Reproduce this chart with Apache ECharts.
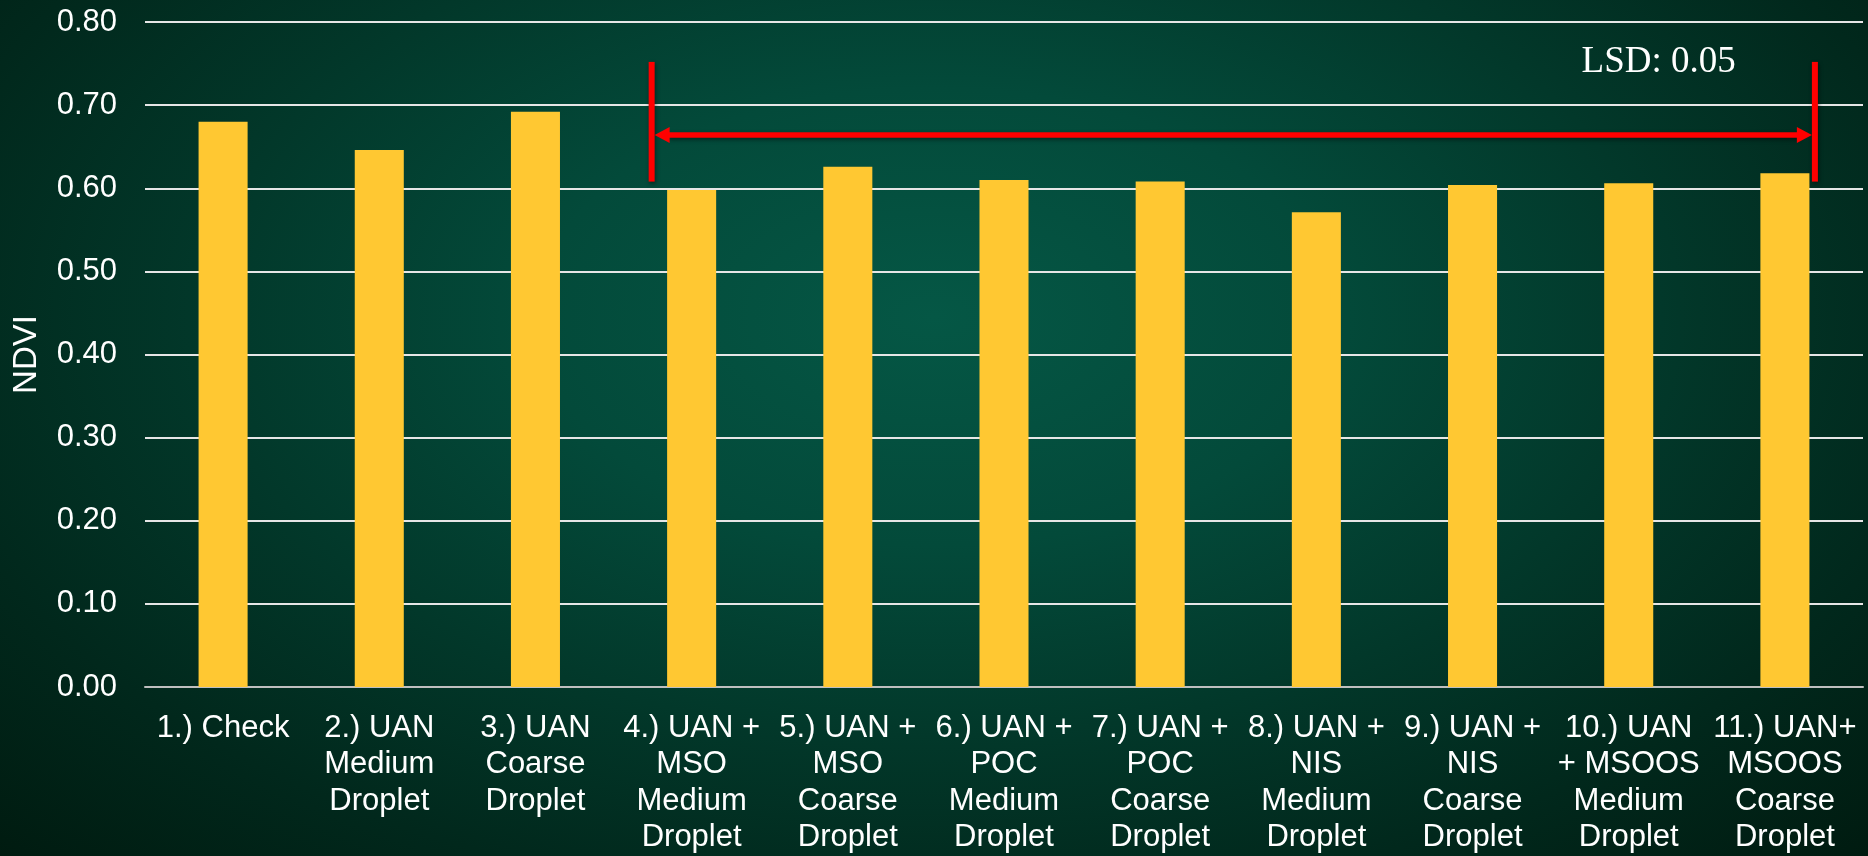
<!DOCTYPE html>
<html>
<head>
<meta charset="utf-8">
<title>NDVI by treatment</title>
<script src="https://cdn.jsdelivr.net/npm/echarts@6/dist/echarts.min.js"></script>
<style>
  html, body { margin: 0; padding: 0; width: 100%; height: 100%; }
  body {
    background: radial-gradient(ellipse farthest-corner at 50% 37%,
      #055745 0%, #034a3a 30%, #02382a 55%, #01281c 78%, #001b10 100%);
  }
  #chart { width: 1868px; height: 856px; }
</style>
</head>
<body>
<div id="chart"></div>
<script>
// Treatments (x axis), one label line per row
const categories = [
  '1.) Check',
  '2.) UAN\nMedium\nDroplet',
  '3.) UAN\nCoarse\nDroplet',
  '4.) UAN +\nMSO\nMedium\nDroplet',
  '5.) UAN +\nMSO\nCoarse\nDroplet',
  '6.) UAN +\nPOC\nMedium\nDroplet',
  '7.) UAN +\nPOC\nCoarse\nDroplet',
  '8.) UAN +\nNIS\nMedium\nDroplet',
  '9.) UAN +\nNIS\nCoarse\nDroplet',
  '10.) UAN\n+ MSOOS\nMedium\nDroplet',
  '11.) UAN+\nMSOOS\nCoarse\nDroplet'
];

// Mean NDVI per treatment
const ndvi = [0.680, 0.646, 0.692, 0.598, 0.626, 0.610, 0.608, 0.571, 0.604, 0.606, 0.618];

// Y axis ticks
const yTicks = [0, 0.1, 0.2, 0.3, 0.4, 0.5, 0.6, 0.7, 0.8];

// LSD bracket: first/last treatment index covered, and NDVI levels
// for the bracket's bottom, the arrow and the bracket's top
const lsdValue = 0.05;
const lsdRange = [3, 10];
const lsdLevels = [0.608, 0.664, 0.752];

const chart = echarts.init(document.getElementById('chart'), null, { renderer: 'canvas' });

const font = 'Liberation Sans, Arial, sans-serif';
const red = '#ff0000';

function renderLsd(params, api) {
  const band = api.size([1, 0])[0];
  const xL = api.coord([lsdRange[0], 0])[0] - band * 0.256;
  const xR = api.coord([lsdRange[1], 0])[0] + band * 0.192;
  const yLow = api.coord([0, lsdLevels[0]])[1];
  const yArrow = api.coord([0, lsdLevels[1]])[1];
  const yHigh = api.coord([0, lsdLevels[2]])[1];
  const shadow = { shadowBlur: 4, shadowOffsetX: 1, shadowOffsetY: 2, shadowColor: 'rgba(0,0,0,0.45)' };
  const head = 15, half = 8;
  const aL = xL + 3, aR = xR - 3;
  return {
    type: 'group',
    children: [
      { type: 'line', shape: { x1: xL, y1: yHigh, x2: xL, y2: yLow },
        style: Object.assign({ stroke: red, lineWidth: 6 }, shadow) },
      { type: 'line', shape: { x1: xR, y1: yHigh, x2: xR, y2: yLow },
        style: Object.assign({ stroke: red, lineWidth: 6 }, shadow) },
      { type: 'line', shape: { x1: aL + head - 2, y1: yArrow, x2: aR - head + 2, y2: yArrow },
        style: Object.assign({ stroke: red, lineWidth: 5.5 }, shadow) },
      { type: 'polygon', shape: { points: [[aL, yArrow], [aL + head, yArrow - half], [aL + head, yArrow + half]] },
        style: { fill: red } },
      { type: 'polygon', shape: { points: [[aR, yArrow], [aR - head, yArrow - half], [aR - head, yArrow + half]] },
        style: { fill: red } },
      { type: 'text', x: xR - band, y: yHigh,
        style: { text: 'LSD: ' + lsdValue.toFixed(2), fill: '#ffffff',
          font: '37px "Liberation Serif", "Times New Roman", serif',
          align: 'center', verticalAlign: 'middle' } }
    ]
  };
}

chart.setOption({
  backgroundColor: 'transparent',
  animation: false,
  grid: { left: 145, right: 5, top: 22, bottom: 166, containLabel: false },
  xAxis: {
    type: 'category',
    data: categories,
    axisTick: { show: false },
    axisLine: { show: true, lineStyle: { color: '#bfbfbf', width: 2 } },
    axisLabel: {
      interval: 0,
      color: '#ffffff',
      fontFamily: font,
      fontSize: 31,
      lineHeight: 36.5,
      margin: 23,
      align: 'center'
    }
  },
  yAxis: {
    type: 'value',
    min: yTicks[0],
    max: yTicks[yTicks.length - 1],
    interval: 0.1,
    name: 'NDVI',
    nameLocation: 'middle',
    nameGap: 102,
    nameRotate: 90,
    nameTextStyle: { color: '#ffffff', fontFamily: font, fontSize: 33 },
    axisLine: { show: false },
    axisTick: { show: false },
    axisLabel: {
      color: '#ffffff',
      fontFamily: font,
      fontSize: 31,
      margin: 28,
      formatter: v => v.toFixed(2)
    },
    splitLine: { show: true, lineStyle: { color: '#e6e6e6', width: 2 } }
  },
  series: [
    {
      type: 'bar',
      data: ndvi,
      barWidth: '31.4%',
      itemStyle: { color: '#ffc832' },
      z: 2
    },
    {
      type: 'custom',
      data: [[0, 0]],
      renderItem: renderLsd,
      clip: false,
      silent: true,
      z: 5
    }
  ]
});
</script>
</body>
</html>
